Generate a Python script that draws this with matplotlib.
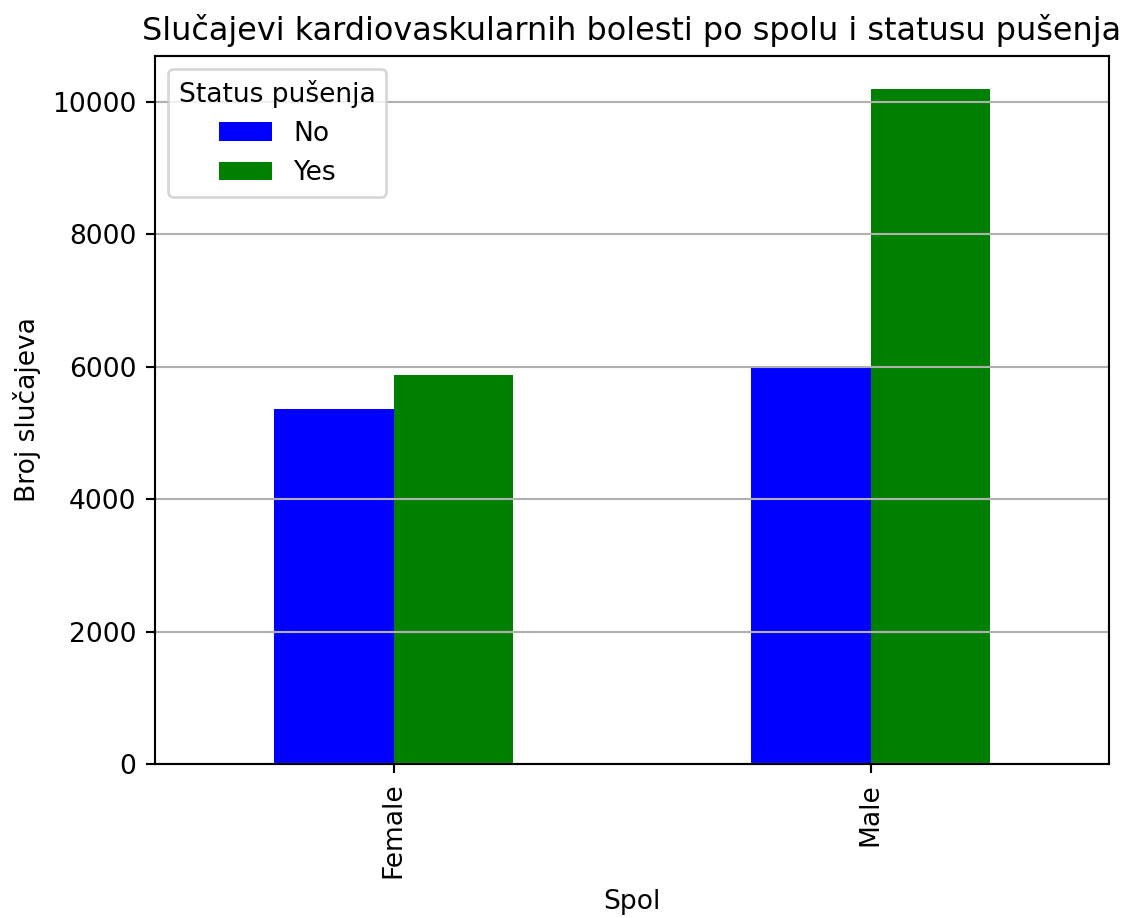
import pandas as pd
import matplotlib
matplotlib.use('Agg')
import matplotlib.pyplot as plt

# counts
spol = ['Female', 'Male']
no_smoke = [5360, 5980]
yes_smoke = [5877, 10190]

df = pd.DataFrame({'No': no_smoke, 'Yes': yes_smoke}, index=spol)
df.index.name = 'Spol'

dpi = 191
fig = plt.figure(figsize=(1128 / dpi, 918 / dpi), dpi=dpi)
ax = fig.add_axes([155 / 1128, 1 - 764.3 / 918, (1109 - 155) / 1128, (764.3 - 55.7) / 918])

df.plot(kind='bar', ax=ax, color=['blue', 'green'])
ax.set_title('Slučajevi kardiovaskularnih bolesti po spolu i statusu pušenja')
ax.set_xlabel('Spol')
ax.set_ylabel('Broj slučajeva')
ax.legend(title='Status pušenja', loc='upper left')
ax.grid(axis='y')

fig.savefig('out.png', dpi=dpi)
